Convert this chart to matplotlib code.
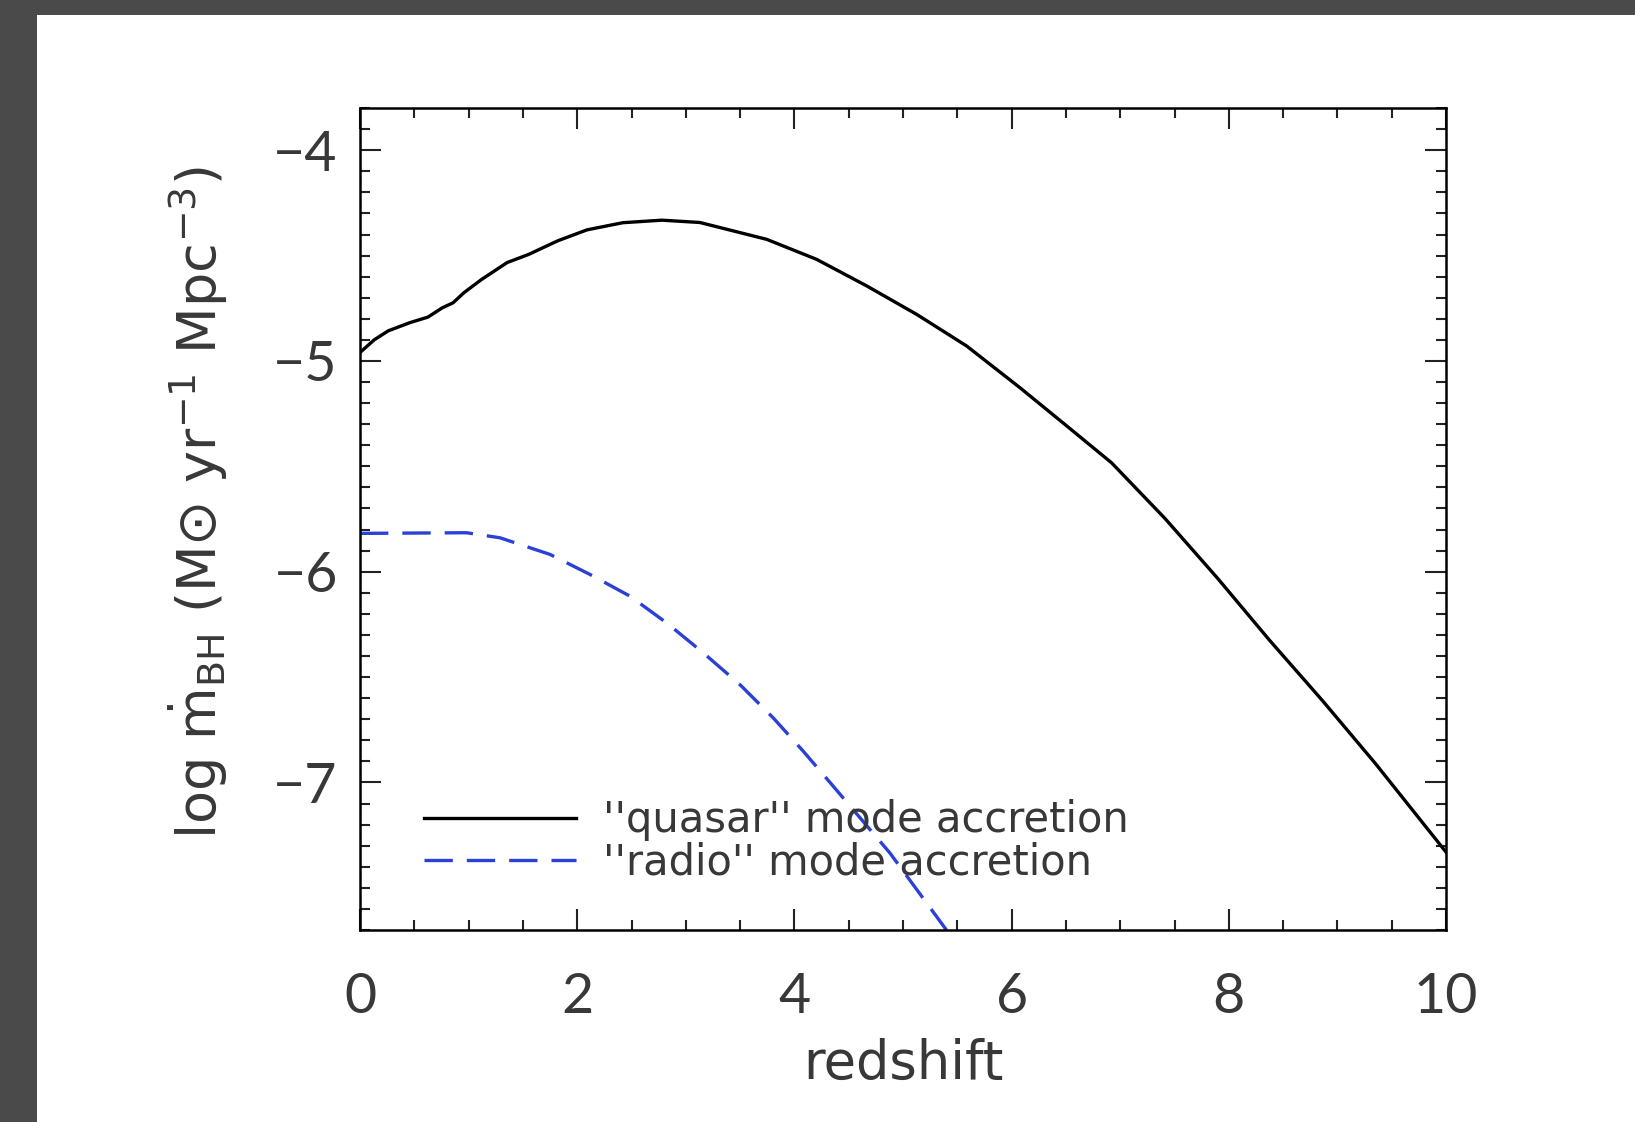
import numpy as np
import matplotlib
matplotlib.use("Agg")
import matplotlib.pyplot as plt
from matplotlib.patches import Rectangle
from matplotlib.ticker import MultipleLocator

# black hole accretion rate density vs redshift
z_quasar = [0.0, 0.13, 0.26, 0.46, 0.625, 0.757, 0.857, 0.957, 1.12, 1.355,
            1.555, 1.82, 2.09, 2.42, 2.78, 3.13, 3.745, 4.205, 4.666, 5.126,
            5.586, 6.077, 6.5, 6.92, 7.41, 7.89, 8.38, 8.86, 9.35, 10.0]
mdot_quasar = [-4.96, -4.90, -4.857, -4.818, -4.792, -4.748, -4.724, -4.676, -4.613, -4.533,
               -4.494, -4.43, -4.378, -4.344, -4.332, -4.343, -4.423, -4.518, -4.644, -4.779,
               -4.929, -5.127, -5.305, -5.483, -5.746, -6.027, -6.328, -6.61, -6.91, -7.33]

z_radio = [0.0, 0.98, 1.289, 1.75, 2.118, 2.486, 2.824, 3.161, 3.499, 3.806,
           4.082, 4.358, 4.88, 5.40]
mdot_radio = [-5.818, -5.815, -5.839, -5.918, -6.013, -6.116, -6.243, -6.385, -6.536, -6.694,
              -6.852, -7.018, -7.335, -7.70]

labels = ["''quasar'' mode accretion", "''radio'' mode accretion"]

plt.rcParams['font.family'] = ['DejaVu Sans']
plt.rcParams['mathtext.fontset'] = 'dejavusans'

ink = '#383838'

fig = plt.figure(figsize=(16.35, 11.22), dpi=100, facecolor='#4a4a4a')
fig.patches.append(Rectangle((37 / 1635, 0), 1, 1 - 15 / 1122, transform=fig.transFigure,
                             facecolor='white', edgecolor='none', zorder=-5))

ax = fig.add_axes([0.2202, 0.1711, 0.6642, 0.7326])
ax.set_facecolor('white')
ax.plot(z_quasar, mdot_quasar, color='black', lw=2.4, label=labels[0])
ax.plot(z_radio, mdot_radio, color='#2a40d8', lw=2.4, dashes=(8.5, 4.2), label=labels[1])

ax.set_xlim(0, 10)
ax.set_ylim(-7.7, -3.8)
ax.xaxis.set_major_locator(MultipleLocator(2))
ax.xaxis.set_minor_locator(MultipleLocator(0.5))
ax.yaxis.set_major_locator(MultipleLocator(1))
ax.yaxis.set_minor_locator(MultipleLocator(0.1))
ax.tick_params(which='both', direction='in', top=True, right=True, width=1.5, color='#222222')
ax.tick_params(which='major', length=15)
ax.tick_params(which='minor', length=7)
ax.tick_params(axis='y', which='major', labelsize=40, pad=16, labelcolor=ink)
ax.tick_params(axis='x', which='major', labelsize=40, pad=30, labelcolor=ink)
ax.yaxis.set_major_formatter(plt.FuncFormatter(lambda v, p: '\u2212%d' % abs(v)))
for t in ax.get_xticklabels() + ax.get_yticklabels():
    t.set_family('Lato')
for s in ax.spines.values():
    s.set_linewidth(1.8)

fig.text(903 / 1635, 1 - 1064 / 1122, 'redshift', ha='center', va='center',
         fontsize=38, color=ink)
fig.text(198 / 1635, 1 - 503 / 1122,
         r'log $\dot{\rm m}_{\rm BH}$ (M$\odot$ yr$^{-1}$ Mpc$^{-3}$)',
         ha='center', va='center', rotation=90, fontsize=39, color=ink)

leg = ax.legend(loc='upper left', bbox_to_anchor=(0.059, 0.159), frameon=False,
                fontsize=30, handlelength=3.65, handletextpad=0.65, labelspacing=0.0,
                borderpad=0, borderaxespad=0)
for t in leg.get_texts():
    t.set_color(ink)

fig.savefig('out.png', dpi=100, facecolor=fig.get_facecolor())
